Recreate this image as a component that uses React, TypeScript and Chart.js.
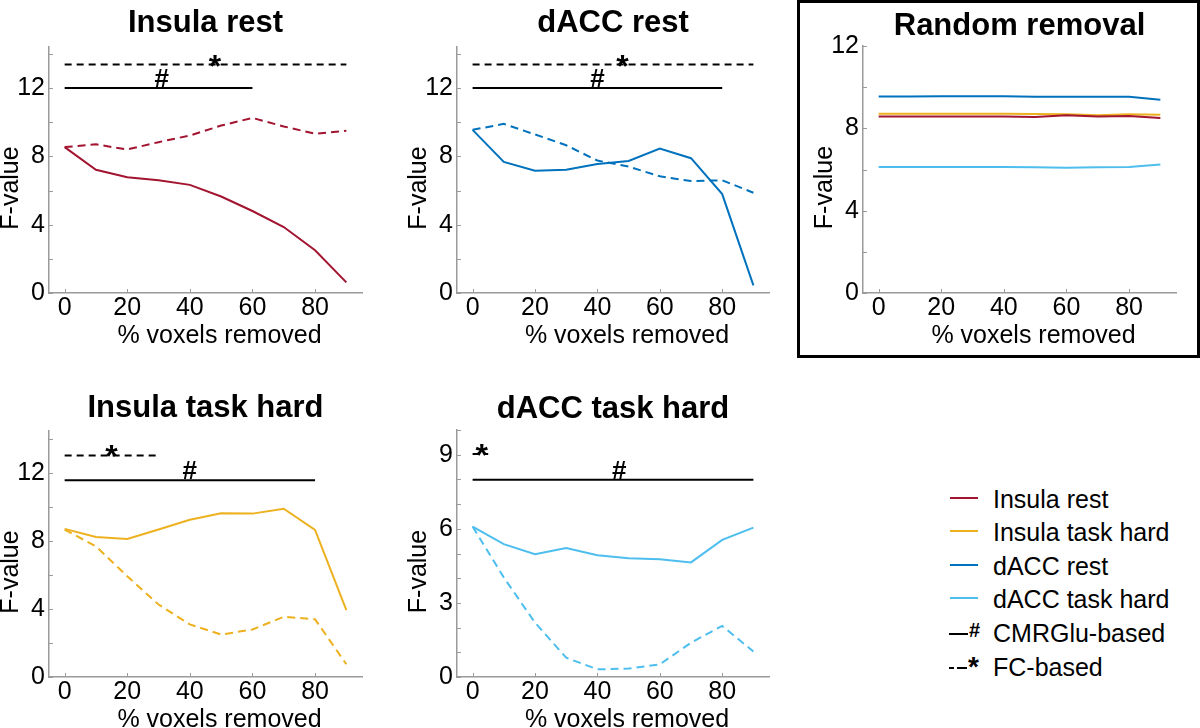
import React, { useEffect, useRef } from "react";
import { Chart, registerables } from "chart.js";
Chart.register(...registerables);

const FONT = "'Liberation Sans', Arial, Helvetica, sans-serif";

// ---------- data ----------
const PCT_REMOVED = [0, 10, 20, 30, 40, 50, 60, 70, 80, 90];
const X_TICKS = [0, 20, 40, 60, 80];
const Y_TICKS_14 = [0, 2, 4, 6, 8, 10, 12, 14];
const Y_TICKS_12 = [0, 2, 4, 6, 8, 10, 12];
const Y_TICKS_10 = [0, 1, 2, 3, 4, 5, 6, 7, 8, 9, 10];

const INSULA_REST_CMR = [8.54, 7.21, 6.78, 6.6, 6.33, 5.65, 4.8, 3.86, 2.5, 0.62];
const INSULA_REST_FC = [8.54, 8.7, 8.4, 8.83, 9.22, 9.8, 10.25, 9.75, 9.32, 9.5];
const DACC_REST_CMR = [9.55, 7.67, 7.16, 7.22, 7.55, 7.73, 8.45, 7.89, 5.79, 0.45];
const DACC_REST_FC = [9.55, 9.9, 9.28, 8.65, 7.75, 7.4, 6.83, 6.55, 6.6, 5.87];
const INSULA_TASK_CMR = [8.73, 8.25, 8.14, 8.69, 9.27, 9.65, 9.63, 9.92, 8.67, 3.94];
const INSULA_TASK_FC = [8.69, 7.7, 5.94, 4.27, 3.1, 2.5, 2.8, 3.55, 3.4, 0.75];
const DACC_TASK_CMR = [6.09, 5.38, 4.97, 5.22, 4.93, 4.81, 4.77, 4.64, 5.55, 6.05];
const DACC_TASK_FC = [6.09, 4.03, 2.2, 0.78, 0.31, 0.34, 0.51, 1.39, 2.07, 1.03];

const RAND_INSULA_REST = [8.58, 8.58, 8.58, 8.57, 8.57, 8.55, 8.63, 8.57, 8.6, 8.5];
const RAND_INSULA_TASK = [8.71, 8.71, 8.71, 8.71, 8.71, 8.7, 8.69, 8.64, 8.68, 8.66];
const RAND_DACC_REST = [9.55, 9.55, 9.56, 9.56, 9.56, 9.54, 9.53, 9.53, 9.54, 9.39];
const RAND_DACC_TASK = [6.12, 6.12, 6.12, 6.12, 6.12, 6.11, 6.09, 6.11, 6.12, 6.24];

// significance bars: [from, to], level, marker x
const INSULA_REST_SIG_FC = { range: [0, 90], level: 13.37, markX: 48 };
const INSULA_REST_SIG_CMR = { range: [0, 60], level: 12.0, markX: 31 };
const DACC_REST_SIG_FC = { range: [0, 90], level: 13.37, markX: 48 };
const DACC_REST_SIG_CMR = { range: [0, 80], level: 12.0, markX: 40 };
const INSULA_TASK_SIG_FC = { range: [0, 30], level: 13.06, markX: 15 };
const INSULA_TASK_SIG_CMR = { range: [0, 80], level: 11.6, markX: 40 };
const DACC_TASK_SIG_FC = { range: [0, 5], level: 9.03, markX: 2.9 };
const DACC_TASK_SIG_CMR = { range: [0, 90], level: 7.99, markX: 47 };

const LEGEND_LABELS = ["Insula rest", "Insula task hard", "dACC rest", "dACC task hard", "CMRGlu-based", "FC-based"];

const C_INSULA_REST = "#A2142F";
const C_INSULA_TASK = "#EDB120";
const C_DACC_REST = "#0072BD";
const C_DACC_TASK = "#4DBEEE";
const AXIS = "#9a9a9a";

const X_LABEL = "% voxels removed";
const Y_LABEL = "F-value";

type Box = { left: number; top: number; w: number; h: number };
type Area = { l: number; t: number; r: number; b: number };
type Series = { values: number[]; color: string; dashed: boolean };
type Sig = { range: number[]; level: number; markX: number; dashed: boolean; mark: string };

type PanelProps = {
  box: Box;
  area: Area;
  titlePadB: number;
  title: string;
  yMax: number;
  yTicks: number[];
  yLabelStep: number;
  series: Series[];
  sigs: Sig[];
};

const Y_AXIS_W = 45;
const X_AXIS_H = 30;
const TITLE_SIZE = 31;

function Panel(p: PanelProps) {
  const ref = useRef<HTMLCanvasElement | null>(null);
  useEffect(() => {
    if (!ref.current) return;
    const { box, area } = p;
    const padding = {
      left: area.l - box.left - Y_AXIS_W,
      right: box.left + box.w - area.r,
      top: area.t - box.top - (TITLE_SIZE + p.titlePadB),
      bottom: box.top + box.h - area.b - X_AXIS_H,
    };
    const datasets: any[] = [
      ...p.sigs.map((s) => ({
        data: s.range.map((x) => ({ x, y: s.level })),
        borderColor: "#000",
        borderWidth: 2,
        borderDash: s.dashed ? [7, 5] : [],
        pointRadius: 0,
        fill: false,
      })),
      ...p.series.map((s) => ({
        data: PCT_REMOVED.map((x, i) => ({ x, y: s.values[i] })),
        borderColor: s.color,
        borderWidth: 2,
        borderDash: s.dashed ? [8, 5] : [],
        pointRadius: 0,
        fill: false,
      })),
    ];
    const tickFont = { family: FONT, size: 25 };
    const annot = {
      id: "annot",
      afterDatasetsDraw(chart: any) {
        const ctx = chart.ctx;
        const ca = chart.chartArea;
        const xs = chart.scales.x;
        const ys = chart.scales.y;
        ctx.save();
        // inward tick marks
        ctx.strokeStyle = AXIS;
        ctx.lineWidth = 1;
        ctx.beginPath();
        ys.ticks.forEach((t: any) => {
          const py = Math.round(ys.getPixelForValue(t.value)) + 0.5;
          ctx.moveTo(ca.left, py);
          ctx.lineTo(ca.left + 4, py);
        });
        xs.ticks.forEach((t: any) => {
          const px = Math.round(xs.getPixelForValue(t.value)) + 0.5;
          ctx.moveTo(px, ca.bottom);
          ctx.lineTo(px, ca.bottom - 4);
        });
        ctx.stroke();
        // significance markers
        ctx.fillStyle = "#000";
        ctx.textAlign = "center";
        ctx.textBaseline = "alphabetic";
        p.sigs.forEach((s) => {
          const px = xs.getPixelForValue(s.markX);
          const py = ys.getPixelForValue(s.level);
          if (s.mark === "*") {
            ctx.font = `bold 32px ${FONT}`;
            ctx.fillText("*", px, py + 12);
          } else {
            ctx.font = `bold 26px ${FONT}`;
            ctx.fillText("#", px, py - 1);
          }
        });
        // axis titles
        ctx.font = `25px ${FONT}`;
        ctx.fillText(X_LABEL, (ca.left + ca.right) / 2 + 14, ca.bottom + 50);
        ctx.translate(ca.left - 31, (ca.top + ca.bottom) / 2 + 18);
        ctx.rotate(-Math.PI / 2);
        ctx.fillText(Y_LABEL, 0, 0);
        ctx.restore();
      },
    };
    const chart = new Chart(ref.current, {
      type: "line",
      data: { datasets },
      plugins: [annot],
      options: {
        animation: false,
        responsive: false,
        events: [],
        layout: { padding },
        plugins: {
          legend: { display: false },
          tooltip: { enabled: false },
          title: {
            display: true,
            text: p.title,
            fullSize: false,
            color: "#000",
            font: { family: FONT, size: TITLE_SIZE, weight: "bold", lineHeight: 1 },
            padding: { top: 0, bottom: p.titlePadB },
          },
        },
        scales: {
          x: {
            type: "linear",
            min: -5,
            max: 95,
            grid: { display: false, drawTicks: false },
            border: { display: true, color: AXIS, width: 1.5 },
            ticks: { font: tickFont, color: "#000", padding: 0, autoSkip: false, maxRotation: 0 },
            afterBuildTicks: (s: any) => {
              s.ticks = X_TICKS.map((v) => ({ value: v }));
            },
            afterFit: (s: any) => {
              s.height = X_AXIS_H;
            },
          },
          y: {
            type: "linear",
            min: 0,
            max: p.yMax,
            grid: { display: false, drawTicks: false },
            border: { display: true, color: AXIS, width: 1.5 },
            ticks: {
              font: tickFont,
              color: "#000",
              padding: 4,
              autoSkip: false,
              callback: (v: any) => (Number(v) % p.yLabelStep === 0 ? String(v) : ""),
            },
            afterBuildTicks: (s: any) => {
              s.ticks = p.yTicks.map((v) => ({ value: v }));
            },
            afterFit: (s: any) => {
              s.width = Y_AXIS_W;
            },
          },
        },
      } as any,
    });
    return () => chart.destroy();
  }, []);
  const { box } = p;
  return (
    <canvas
      ref={ref}
      width={box.w}
      height={box.h}
      style={{ position: "absolute", left: box.left, top: box.top, width: box.w, height: box.h }}
    />
  );
}

const sig = (s: { range: number[]; level: number; markX: number }, fc: boolean): Sig => ({
  ...s,
  dashed: fc,
  mark: fc ? "*" : "#",
});

const legendColors = [C_INSULA_REST, C_INSULA_TASK, C_DACC_REST, C_DACC_TASK];

export default function App() {
  const legendBaselines = [508, 541, 575, 608, 642, 676];
  return (
    <div style={{ position: "absolute", left: 0, top: 0, width: 1200, height: 728, background: "#fff", overflow: "hidden", fontFamily: FONT }}>
      <Panel
        box={{ left: 0, top: 0, w: 390, h: 364 }}
        area={{ l: 49, t: 47, r: 362, b: 293 }}
        titlePadB={8}
        title="Insula rest"
        yMax={14.4}
        yTicks={Y_TICKS_14}
        yLabelStep={4}
        series={[
          { values: INSULA_REST_CMR, color: C_INSULA_REST, dashed: false },
          { values: INSULA_REST_FC, color: C_INSULA_REST, dashed: true },
        ]}
        sigs={[sig(INSULA_REST_SIG_FC, true), sig(INSULA_REST_SIG_CMR, false)]}
      />
      <Panel
        box={{ left: 390, top: 0, w: 400, h: 364 }}
        area={{ l: 457, t: 47, r: 769, b: 293 }}
        titlePadB={8}
        title="dACC rest"
        yMax={14.4}
        yTicks={Y_TICKS_14}
        yLabelStep={4}
        series={[
          { values: DACC_REST_CMR, color: C_DACC_REST, dashed: false },
          { values: DACC_REST_FC, color: C_DACC_REST, dashed: true },
        ]}
        sigs={[sig(DACC_REST_SIG_FC, true), sig(DACC_REST_SIG_CMR, false)]}
      />
      <div
        style={{
          position: "absolute",
          left: 797,
          top: 0,
          width: 403,
          height: 358,
          boxSizing: "border-box",
          border: "3px solid #000",
        }}
      />
      <Panel
        box={{ left: 800, top: 4, w: 395, h: 350 }}
        area={{ l: 863, t: 46, r: 1176, b: 293 }}
        titlePadB={4}
        title="Random removal"
        yMax={12}
        yTicks={Y_TICKS_12}
        yLabelStep={4}
        series={[
          { values: RAND_INSULA_REST, color: C_INSULA_REST, dashed: false },
          { values: RAND_INSULA_TASK, color: C_INSULA_TASK, dashed: false },
          { values: RAND_DACC_REST, color: C_DACC_REST, dashed: false },
          { values: RAND_DACC_TASK, color: C_DACC_TASK, dashed: false },
        ]}
        sigs={[]}
      />
      <Panel
        box={{ left: 0, top: 364, w: 390, h: 364 }}
        area={{ l: 49, t: 431, r: 362, b: 677 }}
        titlePadB={7}
        title="Insula task hard"
        yMax={14.5}
        yTicks={Y_TICKS_14}
        yLabelStep={4}
        series={[
          { values: INSULA_TASK_CMR, color: C_INSULA_TASK, dashed: false },
          { values: INSULA_TASK_FC, color: C_INSULA_TASK, dashed: true },
        ]}
        sigs={[sig(INSULA_TASK_SIG_FC, true), sig(INSULA_TASK_SIG_CMR, false)]}
      />
      <Panel
        box={{ left: 390, top: 364, w: 400, h: 364 }}
        area={{ l: 457, t: 430, r: 769, b: 677 }}
        titlePadB={5}
        title="dACC task hard"
        yMax={10}
        yTicks={Y_TICKS_10}
        yLabelStep={3}
        series={[
          { values: DACC_TASK_CMR, color: C_DACC_TASK, dashed: false },
          { values: DACC_TASK_FC, color: C_DACC_TASK, dashed: true },
        ]}
        sigs={[sig(DACC_TASK_SIG_FC, true), sig(DACC_TASK_SIG_CMR, false)]}
      />
      {/* legend */}
      {LEGEND_LABELS.map((label, i) => {
        const base = legendBaselines[i];
        return (
          <React.Fragment key={label}>
            {i < 4 && (
              <div
                style={{
                  position: "absolute",
                  left: 950,
                  top: base - 10 - 1,
                  width: 28,
                  height: 2,
                  background: legendColors[i],
                }}
              />
            )}
            {i === 4 && (
              <>
                <div style={{ position: "absolute", left: 949, top: base - 9, width: 19, height: 2, background: "#000" }} />
                <div style={{ position: "absolute", left: 969, top: base - 24, fontSize: 20, lineHeight: "24px", fontWeight: "bold", color: "#000" }}>#</div>
              </>
            )}
            {i === 5 && (
              <>
                <div style={{ position: "absolute", left: 949, top: base - 9, width: 5, height: 2, background: "#000" }} />
                <div style={{ position: "absolute", left: 957, top: base - 9, width: 10, height: 2, background: "#000" }} />
                <div style={{ position: "absolute", left: 968, top: base - 24, fontSize: 28, lineHeight: "30px", fontWeight: "bold", color: "#000" }}>*</div>
              </>
            )}
            <div
              style={{
                position: "absolute",
                left: 993,
                top: base - 24,
                fontSize: 25,
                lineHeight: "30px",
                color: "#000",
                whiteSpace: "nowrap",
              }}
            >
              {label}
            </div>
          </React.Fragment>
        );
      })}
    </div>
  );
}
